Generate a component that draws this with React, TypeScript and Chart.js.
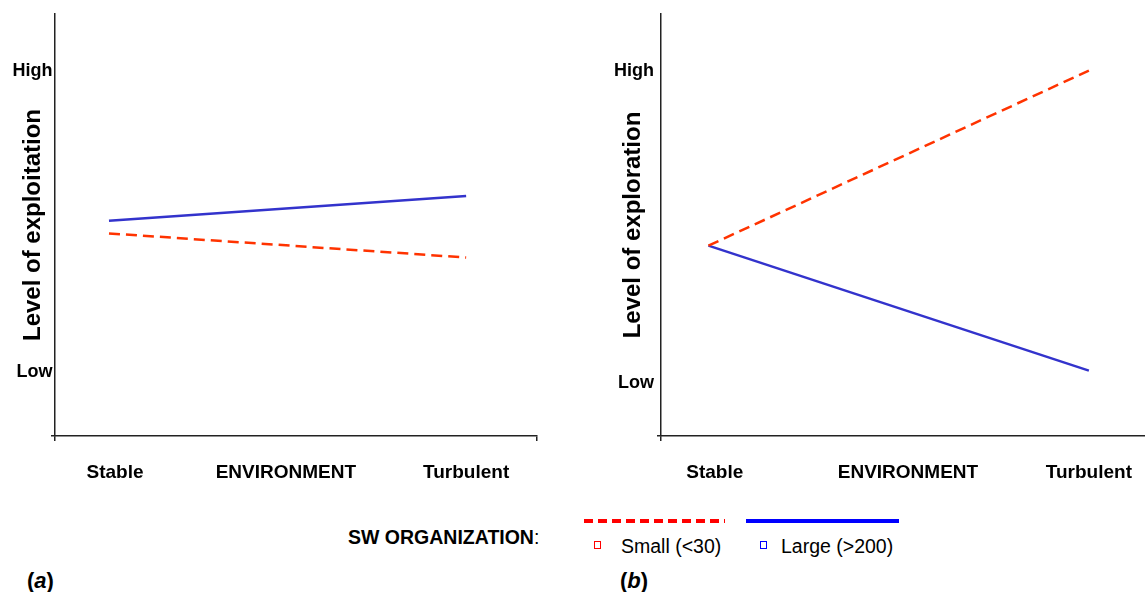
import React, { useEffect, useRef } from "react";
import { Chart, registerables } from "chart.js";

Chart.register(...registerables);

// ---- data ----
const categories = ["Stable", "ENVIRONMENT", "Turbulent"];
const levelLabels = ["High", "Low"];
const seriesNames = ["Small (<30)", "Large (>200)"];
const legendTitle = "SW ORGANIZATION";

// Panel (a): level of exploitation
const exploitTitle = "Level of exploitation";
const exploitX = [1.12, 8.53]; // Stable, Turbulent
const exploitSmall = [4.8, 4.23];
const exploitLarge = [5.1, 5.69];
const exploitCatPos = [1.245, 4.79, 8.53];
const exploitLevelPos = [8.65, 1.52];

// Panel (b): level of exploration
const exploreTitle = "Level of exploration";
const exploreX = [0.97, 8.75];
const exploreSmall = [4.51, 8.66];
const exploreLarge = [4.51, 1.55];
const exploreCatPos = [1.1, 5.05, 8.75];
const exploreLevelPos = [8.65, 1.25];

const FONT = "'Liberation Sans', Arial, Helvetica, sans-serif";
const SMALL_COLOR = "#ff3300";
const LARGE_COLOR = "#3333cc";
const AXIS_COLOR = "#222222";

type PanelProps = {
  title: string;
  xs: number[];
  small: number[];
  large: number[];
  catPos: number[];
  levelPos: number[];
  yAxisWidth: number;
  titlePad: number;
  labelPad: number;
  showEndTick: boolean;
  width: number;
  height: number;
  left: number;
};

function Panel(p: PanelProps) {
  const ref = useRef<HTMLCanvasElement | null>(null);
  useEffect(() => {
    if (!ref.current) return;
    const chart = new Chart(ref.current, {
      type: "scatter",
      data: {
        datasets: [
          {
            label: seriesNames[0],
            data: p.xs.map((x, i) => ({ x, y: p.small[i] })),
            showLine: true,
            borderColor: SMALL_COLOR,
            backgroundColor: SMALL_COLOR,
            borderWidth: 2.5,
            borderDash: [11, 6],
            pointRadius: 0,
            fill: false,
          },
          {
            label: seriesNames[1],
            data: p.xs.map((x, i) => ({ x, y: p.large[i] })),
            showLine: true,
            borderColor: LARGE_COLOR,
            backgroundColor: LARGE_COLOR,
            borderWidth: 2.5,
            pointRadius: 0,
            fill: false,
          },
        ],
      },
      options: {
        responsive: false,
        animation: false,
        devicePixelRatio: 1,
        layout: { padding: { top: 14, right: p.showEndTick ? 23 : 0, bottom: 0, left: 0 } },
        plugins: { legend: { display: false }, tooltip: { enabled: false } },
        scales: {
          x: {
            type: "linear",
            min: 0,
            max: 10,
            afterFit: (s: any) => {
              s.height = 64;
              s.paddingLeft = 0;
              s.paddingRight = 0;
            },
            afterBuildTicks: (s: any) => {
              s.ticks = [{ value: 0 }, ...p.catPos.map((v) => ({ value: v })), { value: 10 }];
            },
            ticks: {
              autoSkip: false,
              maxRotation: 0,
              minRotation: 0,
              padding: 20,
              color: "#000",
              font: { family: FONT, size: 19, weight: "bold" },
              callback: (_v: any, i: number, ticks: any[]) =>
                i === 0 || i === ticks.length - 1 ? "" : categories[i - 1],
            },
            grid: {
              drawOnChartArea: false,
              drawTicks: true,
              tickLength: 5,
              lineWidth: 1.5,
              color: (ctx: any) => {
                const v = ctx.tick ? ctx.tick.value : -1;
                return v === 0 || (p.showEndTick && v === 10) ? AXIS_COLOR : "rgba(0,0,0,0)";
              },
            },
            border: { display: true, color: AXIS_COLOR, width: 1.5 },
          },
          y: {
            type: "linear",
            min: 0,
            max: 10,
            afterFit: (s: any) => {
              s.width = p.yAxisWidth;
            },
            afterBuildTicks: (s: any) => {
              s.ticks = [{ value: 0 }, { value: p.levelPos[1] }, { value: p.levelPos[0] }];
            },
            ticks: {
              autoSkip: false,
              padding: p.labelPad,
              color: "#000",
              font: { family: FONT, size: 18, weight: "bold" },
              callback: (v: any) =>
                v === p.levelPos[0] ? levelLabels[0] : v === p.levelPos[1] ? levelLabels[1] : "",
            },
            grid: {
              drawOnChartArea: false,
              drawTicks: true,
              tickLength: 4,
              lineWidth: 1.5,
              color: (ctx: any) => (ctx.tick && ctx.tick.value === 0 ? AXIS_COLOR : "rgba(0,0,0,0)"),
            },
            border: { display: true, color: AXIS_COLOR, width: 1.5 },
            title: {
              display: true,
              text: p.title,
              color: "#000",
              font: { family: FONT, size: 24, weight: "bold" },
              padding: { top: p.titlePad, bottom: 0 },
            },
          },
        },
      } as any,
    });
    return () => chart.destroy();
  }, []);
  return (
    <canvas
      ref={ref}
      width={p.width}
      height={p.height}
      style={{ position: "absolute", left: p.left, top: 0, width: p.width, height: p.height }}
    />
  );
}

export default function App() {
  const legendText: React.CSSProperties = {
    position: "absolute",
    fontFamily: FONT,
    fontSize: 19.5,
    lineHeight: 1,
    color: "#000",
    whiteSpace: "nowrap",
  };
  const square = (color: string, left: number): React.CSSProperties => ({
    position: "absolute",
    left,
    top: 541,
    width: 5,
    height: 6,
    border: `1.5px solid ${color}`,
    background: "#fff",
  });
  return (
    <div
      style={{
        position: "fixed",
        left: 0,
        top: 0,
        width: 1145,
        height: 592,
        overflow: "hidden",
        background: "#fff",
      }}
    >
      <Panel
        title={exploitTitle}
        xs={exploitX}
        small={exploitSmall}
        large={exploitLarge}
        catPos={exploitCatPos}
        levelPos={exploitLevelPos}
        yAxisWidth={55}
        titlePad={18.6}
        labelPad={-1.5}
        showEndTick={true}
        width={560}
        height={500}
        left={0}
      />
      <Panel
        title={exploreTitle}
        xs={exploreX}
        small={exploreSmall}
        large={exploreLarge}
        catPos={exploreCatPos}
        levelPos={exploreLevelPos}
        yAxisWidth={81}
        titlePad={38.6}
        labelPad={3}
        showEndTick={false}
        width={570}
        height={500}
        left={580}
      />
      <div style={{ ...legendText, left: 348, top: 528 }}>
        <b>{legendTitle}</b>:
      </div>
      <svg
        style={{ position: "absolute", left: 580, top: 515 }}
        width={330}
        height={12}
      >
        <line x1={4} y1={6} x2={145} y2={6} stroke="#ff0000" strokeWidth={4} strokeDasharray="9 5" />
        <line x1={166} y1={6} x2={319} y2={6} stroke="#0000ff" strokeWidth={4} />
      </svg>
      <div style={square("#ff0000", 594)} />
      <div style={{ ...legendText, left: 621, top: 537 }}>{seriesNames[0]}</div>
      <div style={square("#0000ff", 760)} />
      <div style={{ ...legendText, left: 781, top: 537 }}>{seriesNames[1]}</div>
      <div style={{ ...legendText, fontSize: 22, fontWeight: "bold", left: 27, top: 570 }}>
        (<i>a</i>)
      </div>
      <div style={{ ...legendText, fontSize: 22, fontWeight: "bold", left: 620, top: 570 }}>
        (<i>b</i>)
      </div>
    </div>
  );
}
